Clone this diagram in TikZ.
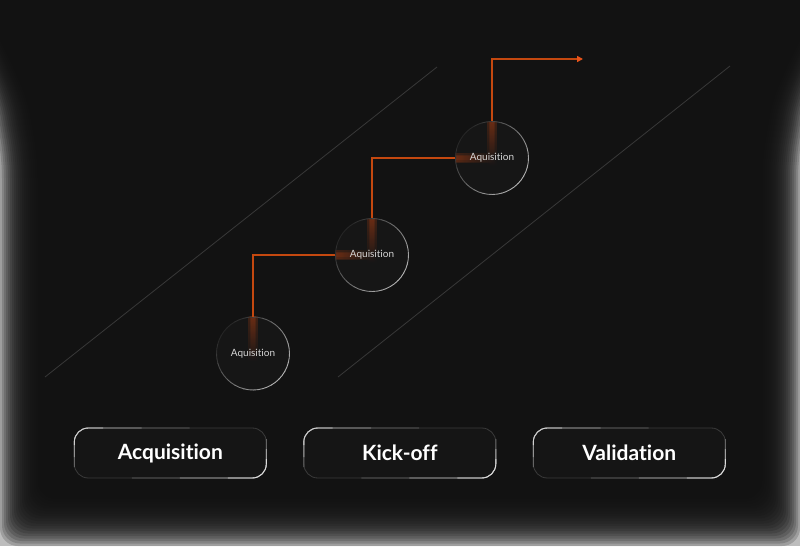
\documentclass[tikz,border=0pt]{standalone}
\usepackage{fontspec}
\setmainfont{Lato}[Ligatures={NoCommon,NoRare}]
\usetikzlibrary{positioning,calc,arrows.meta}
\definecolor{bgdark}{HTML}{121212}
\definecolor{bgglow}{HTML}{BDBDBD}
\definecolor{dotfill}{HTML}{161616}
\definecolor{boxfill}{HTML}{151515}
\definecolor{boxedge}{HTML}{3A3A3A}
\definecolor{railgray}{HTML}{383838}
\definecolor{flowred}{HTML}{C4480F}
\definecolor{tipred}{HTML}{E8531A}
\definecolor{glowred}{HTML}{8A3614}
\definecolor{labelgray}{HTML}{D4D4D4}
\pgfdeclarelayer{back}
\pgfsetlayers{back,main}

\begin{document}
\begin{tikzpicture}[x=1pt,y=1pt,
  stepdot/.style={circle,minimum size=73pt,inner sep=0pt,text=labelgray,font=\fontsize{10}{12}\selectfont},
  phasebox/.style={rounded corners=14pt,minimum width=192pt,minimum height=50pt,outer sep=0pt,fill=boxfill,draw=boxedge,line width=0.8pt,text=white,font=\fontsize{21}{24}\selectfont\bfseries},
  flow/.style={flowred,line width=1.5pt},
  rail/.style={railgray,line width=0.8pt},
  rimlight/.style={line width=0.9pt,rounded corners=14pt}]
\useasboundingbox (0,0) rectangle (800,-546);

% backdrop with the light rim
\begin{pgfonlayer}{back}
\fill[bgglow] (0,0) rectangle (800,-546);
\foreach \i in {0,...,21}
  \fill[bgdark,opacity=0.18,rounded corners=18pt] (-80+2*\i,60) -- (-60+2*\i,0) -- (-32+2*\i,-50) -- (-10+2*\i,-100) -- (2*\i,-160)
    -- (2*\i,-546+2.5*\i) -- (800-2*\i,-546+2.5*\i) -- (800-2*\i,-160) -- (810-2*\i,-100) -- (832-2*\i,-50) -- (860-2*\i,0) -- (880-2*\i,60) -- cycle;
\end{pgfonlayer}

% rails
\coordinate (raila) at (45,-377);
\coordinate (railb) at (437,-67);
\coordinate (railc) at (338,-377);
\coordinate (raild) at (730,-66);

% steps
\node[stepdot] (acq1) at (253,-353.5) {Aquisition};
\node[stepdot] (acq2) at (372,-255) {Aquisition};
\node[stepdot] (acq3) at (492,-158) {Aquisition};
\coordinate (goal) at (583,-59);

\begin{pgfonlayer}{back}
\draw[rail] (raila) -- (railb);
\draw[rail] (railc) -- (raild);
\foreach \n in {acq1,acq2,acq3}
  \fill[dotfill] (\n) circle (36.5);
\foreach \n in {acq1,acq2,acq3}
  \foreach \w in {1.5,3,4.5}
    \shade[top color=glowred,bottom color=dotfill,opacity=0.35] ($(\n.north)+(-\w,0)$) rectangle ($(\n.center)+(\w,-8)$);
\foreach \n in {acq2,acq3}
  \foreach \w in {1.5,3,4.5}
    \shade[left color=glowred,right color=dotfill,opacity=0.35] ($(\n.west)+(0,\w)$) rectangle ($(\n.center)+(4,-\w)$);
\end{pgfonlayer}

% rings
\foreach \n in {acq1,acq2,acq3} {
  \foreach \a in {0,15,...,345} {
    \pgfmathtruncatemacro\p{38+30*cos(\a+45)}
    \draw[line width=0.9pt,white!\p!bgdark] (\n.center) ++(\a:36.5) arc[start angle=\a,end angle=\a+16,radius=36.5];
  }
}

% flow
\draw[flow] (acq1.north) |- (acq2.west);
\draw[flow] (acq2.north) |- (acq3.west);
\draw[flow,-{Triangle[length=6pt,width=6pt,color=tipred]}] (acq3.north) |- (goal);

% phases
\node[phasebox] (acqbox) at (170.3,-453) {Acquisition};
\node[phasebox,right=37.5pt of acqbox] (kickbox) {Kick-off};
\node[phasebox,right=37.5pt of kickbox] (valbox) {Validation};

\foreach \b in {acqbox,kickbox,valbox} {
  \draw[rimlight,white!35!bgdark] ([yshift=-14pt]\b.west) |- ($(\b.north west)!0.6!(\b.north east)$);
  \draw[rimlight,white!55!bgdark] ([yshift=-4pt]\b.west) |- ($(\b.north west)!0.35!(\b.north east)$);
  \draw[rimlight,white!80!bgdark] ([yshift=8pt]\b.west) |- ($(\b.north west)!0.15!(\b.north east)$);
  \draw[rimlight,white!35!bgdark] ([yshift=14pt]\b.east) |- ($(\b.south east)!0.7!(\b.south west)$);
  \draw[rimlight,white!60!bgdark] ([yshift=4pt]\b.east) |- ($(\b.south east)!0.45!(\b.south west)$);
  \draw[rimlight,white!85!bgdark] ([yshift=-6pt]\b.east) |- ($(\b.south east)!0.2!(\b.south west)$);
}
\end{tikzpicture}
\end{document}
